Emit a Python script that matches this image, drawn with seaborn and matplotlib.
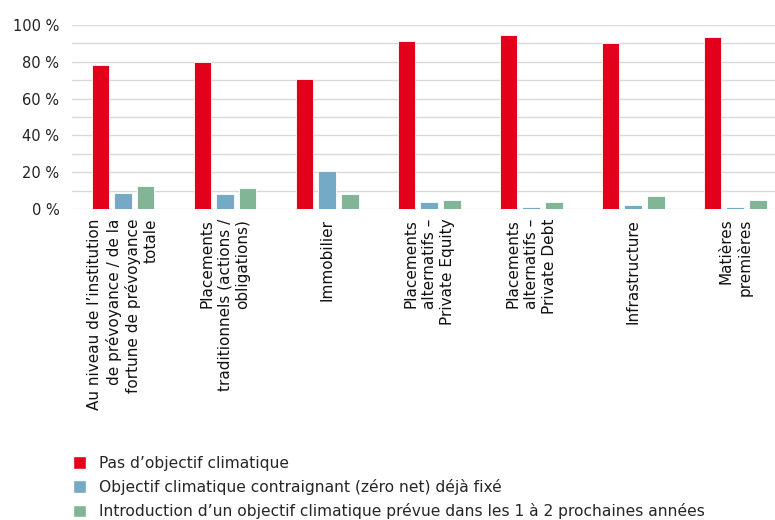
import matplotlib
matplotlib.use("Agg")
import matplotlib.pyplot as plt
import numpy as np
import pandas as pd
import seaborn as sns
from matplotlib.patches import Patch

categories = [
    "Au niveau de l’institution\nde prévoyance / de la\nfortune de prévoyance\ntotale",
    "Placements\ntraditionnels (actions /\nobligations)",
    "Immobilier",
    "Placements\nalternatifs –\nPrivate Equity",
    "Placements\nalternatifs –\nPrivate Debt",
    "Infrastructure",
    "Matières\npremières",
]
series_names = [
    "Pas d’objectif climatique",
    "Objectif climatique contraignant (zéro net) déjà fixé",
    "Introduction d’un objectif climatique prévue dans les 1 à 2 prochaines années",
]
no_target = [78.1, 79.7, 70.8, 91.3, 94.7, 90.0, 93.5]
target_set = [8.9, 8.2, 20.7, 3.6, 0.9, 2.2, 0.9]
target_planned = [12.5, 11.6, 8.2, 4.7, 3.8, 7.2, 4.9]
colors = ["#E3001B", "#74AAC6", "#82B496"]
y_ticks = [0, 20, 40, 60, 80, 100]

sns.set_style("white")
plt.rcParams["font.family"] = ["DejaVu Sans"]

df = pd.DataFrame({
    "Catégorie": categories * 3,
    "Série": [s for s in series_names for _ in categories],
    "Valeur": no_target + target_set + target_planned,
})

fig = plt.figure(figsize=(7.75, 5.2), dpi=100)
ax = fig.add_axes([72 / 775, 1 - 209 / 520, 1 - 72 / 775, 184 / 520])

sns.barplot(
    data=df, x="Catégorie", y="Valeur", hue="Série", order=categories,
    hue_order=series_names, palette=colors, saturation=1, width=0.665, gap=0.22,
    edgecolor="white", linewidth=0.6, ax=ax, legend=False,
)

ax.set_xlim(-0.5, 6.39)
ax.set_ylim(0, 100)
ax.set_yticks(y_ticks)
ax.set_yticklabels([f"{v} %" for v in y_ticks], fontsize=10.5, color="#222222")
ax.set_yticks(np.arange(0, 101, 10), minor=True)
ax.grid(axis="y", which="both", color="#d9d9d9", linewidth=1)
ax.set_axisbelow(True)
ax.tick_params(axis="y", which="both", length=0, pad=9)
ax.tick_params(axis="x", length=0, pad=7)
ax.set_xticks(range(len(categories)))
ax.set_xticklabels(categories, rotation=90, ha="center", va="top",
                   multialignment="right", fontsize=11, linespacing=1.25,
                   color="#111111")
ax.set_xlabel("")
ax.set_ylabel("")
for side in ["top", "right", "left", "bottom"]:
    ax.spines[side].set_visible(False)

handles = [Patch(facecolor=c, edgecolor="white") for c in colors]
fig.legend(
    handles, series_names, loc="upper left", bbox_to_anchor=(59 / 775, 1 - 442 / 520),
    frameon=False, fontsize=11.2, handlelength=0.85, handleheight=0.85,
    handletextpad=0.8, labelspacing=0.52,
)

fig.savefig("out.png", dpi=100)
